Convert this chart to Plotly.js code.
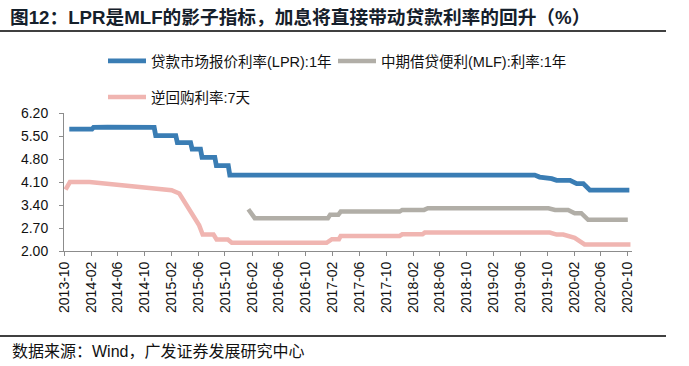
<!DOCTYPE html>
<html>
<head>
<meta charset="utf-8">
<script src="https://cdn.plot.ly/plotly-3.0.1.min.js"></script>
<style>html,body{margin:0;padding:0;background:#fff;}#chart{width:689px;height:366px;}</style>
</head>
<body>
<div id="chart"></div>
<script>
// ---- data ----
const lprName = '贷款市场报价利率(LPR):1年';
const lprDates = ['2013-10-25','2014-02-05','2014-02-12','2014-04-15','2014-11-14','2014-11-21','2015-02-20','2015-02-27','2015-04-28','2015-05-05','2015-06-12','2015-06-19','2015-08-16','2015-08-23','2015-10-16','2015-10-23','2019-08-06','2019-08-28','2019-10-22','2019-11-13','2020-01-13','2020-02-12','2020-03-13','2020-04-12','2020-10-08'];
const lprValues = [5.71,5.71,5.76,5.77,5.76,5.51,5.51,5.30,5.30,5.10,5.10,4.85,4.85,4.60,4.60,4.31,4.31,4.25,4.20,4.15,4.15,4.05,4.05,3.85,3.85];

const mlfName = '中期借贷便利(MLF):利率:1年';
const mlfDates = ['2016-01-15','2016-02-13','2017-01-10','2017-01-20','2017-02-26','2017-03-09','2017-12-01','2017-12-13','2018-03-22','2018-04-08','2019-10-07','2019-11-06','2020-01-04','2020-02-03','2020-03-04','2020-04-04','2020-10-01'];
const mlfValues = [3.27,3.00,3.00,3.10,3.10,3.20,3.20,3.25,3.25,3.30,3.30,3.25,3.25,3.15,3.15,2.95,2.95];

const rrName = '逆回购利率:7天';
const rrDates = ['2013-10-08','2013-10-28','2014-01-25','2015-02-01','2015-03-08','2015-06-06','2015-06-22','2015-08-10','2015-08-24','2015-10-14','2015-11-01','2017-01-04','2017-01-28','2017-03-01','2017-03-09','2017-12-01','2017-12-13','2018-03-15','2018-03-25','2019-10-13','2019-11-13','2019-12-13','2020-02-03','2020-03-19','2020-10-13'];
const rrValues = [3.87,4.10,4.10,3.85,3.75,2.78,2.50,2.50,2.35,2.35,2.25,2.25,2.36,2.36,2.46,2.46,2.51,2.51,2.56,2.56,2.50,2.50,2.40,2.20,2.20];

const xTickDates = ['2013-10-01','2014-02-01','2014-06-01','2014-10-01','2015-02-01','2015-06-01','2015-10-01','2016-02-01','2016-06-01','2016-10-01','2017-02-01','2017-06-01','2017-10-01','2018-02-01','2018-06-01','2018-10-01','2019-02-01','2019-06-01','2019-10-01','2020-02-01','2020-06-01','2020-10-01'];
const yTickValues = [2.00,2.70,3.40,4.10,4.80,5.50,6.20];

const titleText = '<b>图12：LPR是MLF的影子指标，加息将直接带动贷款利率的回升（%）</b>';
const sourceText = '数据来源：Wind，广发证券发展研究中心';

// ---- chart ----
const FONT = 'Liberation Sans, Arial, Noto Sans CJK SC, sans-serif';
const W = 689, H = 366;
const M = {l: 64, r: 57, t: 113, b: 115};
const pw = W - M.l - M.r, ph = H - M.t - M.b;
const px = x => (x - M.l) / pw;          // container px -> paper x
const py = y => (H - M.b - y) / ph;      // container px -> paper y

const traces = [
  {x: lprDates, y: lprValues, name: lprName, type: 'scatter', mode: 'lines',
   line: {color: '#3A7DB4', width: 4.8}, legend: 'legend'},
  {x: mlfDates, y: mlfValues, name: mlfName, type: 'scatter', mode: 'lines',
   line: {color: '#B1AEA7', width: 4.5}, legend: 'legend3'},
  {x: rrDates, y: rrValues, name: rrName, type: 'scatter', mode: 'lines',
   line: {color: '#F0B5B1', width: 4.5}, legend: 'legend2'}
];

const legendBase = (x, y) => ({orientation: 'h', xref: 'container', yref: 'container',
  x: x / W, xanchor: 'left', y: 1 - y / H, yanchor: 'middle', itemwidth: 38,
  font: {family: FONT, size: 14.5, color: '#111'}, bgcolor: 'rgba(0,0,0,0)'});

const layout = {
  width: W, height: H,
  margin: M,
  paper_bgcolor: '#fff', plot_bgcolor: '#fff',
  font: {family: FONT, size: 14, color: '#111'},
  title: {text: titleText, x: 10 / W, xanchor: 'left', xref: 'container',
          y: 1 - 17 / H, yanchor: 'middle', yref: 'container',
          font: {family: FONT, size: 18.7, color: '#15202b'}},
  xaxis: {type: 'date', range: ['2013-10-01', '2020-10-20'],
          tickmode: 'array', tickvals: xTickDates, tickformat: '%Y-%m',
          tickangle: -90, showgrid: false, zeroline: false,
          showline: true, linecolor: '#8c8c8c', linewidth: 1,
          ticks: 'outside', ticklen: 4, tickcolor: '#8c8c8c',
          tickfont: {family: FONT, size: 14, color: '#111'}},
  yaxis: {range: [2.0, 6.2], tickmode: 'array', tickvals: yTickValues,
          tickformat: '.2f', showgrid: false, zeroline: false,
          showline: true, linecolor: '#8c8c8c', linewidth: 1,
          ticks: 'outside', ticklen: 4, tickcolor: '#8c8c8c',
          ticklabelstandoff: 8,
          tickfont: {family: FONT, size: 14, color: '#111'}},
  showlegend: true,
  legend: legendBase(103, 61),
  legend3: legendBase(333, 61),
  legend2: legendBase(103, 97),
  shapes: [
    {type: 'line', xref: 'paper', yref: 'paper', x0: px(0), x1: px(666), y0: py(31), y1: py(31),
     line: {color: '#000', width: 1.5}},
    {type: 'line', xref: 'paper', yref: 'paper', x0: px(0), x1: px(666), y0: py(336), y1: py(336),
     line: {color: '#000', width: 1.5}}
  ],
  annotations: [
    {text: sourceText, xref: 'paper', yref: 'paper', x: px(10), y: py(351), xanchor: 'left', yanchor: 'middle',
     showarrow: false, font: {family: FONT, size: 16, color: '#111'}}
  ]
};

Plotly.newPlot('chart', traces, layout, {displayModeBar: false, staticPlot: true});
</script>
</body>
</html>
